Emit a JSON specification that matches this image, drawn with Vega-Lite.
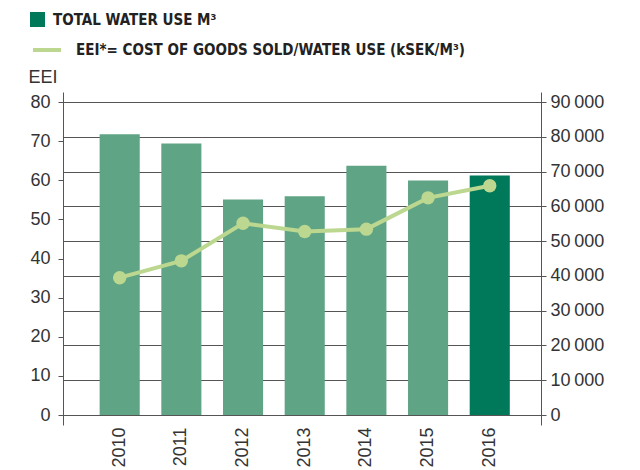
{
  "$schema": "https://vega.github.io/schema/vega-lite/v6.json",
  "autosize": {"type": "none"},
  "padding": {"left": 63, "top": 92, "right": 99, "bottom": 45},
  "width": 478,
  "height": 333,
  "background": "white",
  "config": {"view": {"stroke": null}, "font": "Liberation Sans"},
  "data": {"values": [
    {"year": "2010", "water": 80700, "eei": 35.1, "kind": "earlier"},
    {"year": "2011", "water": 78100, "eei": 39.4, "kind": "earlier"},
    {"year": "2012", "water": 62000, "eei": 49.0, "kind": "earlier"},
    {"year": "2013", "water": 62900, "eei": 46.9, "kind": "earlier"},
    {"year": "2014", "water": 71700, "eei": 47.5, "kind": "earlier"},
    {"year": "2015", "water": 67400, "eei": 55.5, "kind": "earlier"},
    {"year": "2016", "water": 68900, "eei": 58.6, "kind": "TOTAL WATER USE M³"}
  ]},
  "layer": [
    {
      "mark": {"type": "bar"},
      "encoding": {
        "x": {"field": "year", "type": "ordinal",
          "scale": {"paddingInner": 0.35, "paddingOuter": 0.55, "align": 0.54},
          "axis": {"title": null, "domain": false, "ticks": false, "labelAngle": -90, "labelFontSize": 18, "labelPadding": 2, "labelColor": "#333"}},
        "y": {"field": "water", "type": "quantitative",
          "scale": {"domain": [0, 90000], "nice": false, "padding": 10},
          "axis": {"orient": "right", "title": null, "values": [0, 10000, 20000, 30000, 40000, 50000, 60000, 70000, 80000, 90000],
            "format": ",d", "labelExpr": "replace(datum.label, ',', '\u2009')",
            "grid": true, "gridColor": "#555", "gridWidth": 1, "domainColor": "#555", "tickColor": "#555", "tickSize": 5,
            "labelFontSize": 18, "labelColor": "#333", "labelPadding": 4}},
        "fill": {"field": "kind", "type": "nominal",
          "scale": {"domain": ["TOTAL WATER USE M³", "earlier"], "range": ["#00785a", "#5fa485"]},
          "legend": {"orient": "none", "legendX": -33, "legendY": -80, "title": null, "padding": 0,
            "values": ["TOTAL WATER USE M³"], "symbolType": "square", "symbolSize": 225, "symbolStrokeWidth": 0,
            "labelFont": "DejaVu Sans Condensed", "labelFontWeight": "bold", "labelFontSize": 15, "labelColor": "#222",
            "labelOffset": 8, "labelLimit": 600}}
      }
    },
    {
      "layer": [
        {
          "mark": {"type": "line", "strokeWidth": 4},
          "encoding": {
            "x": {"field": "year", "type": "ordinal"},
            "y": {"field": "eei", "type": "quantitative",
              "scale": {"domain": [0, 80], "nice": false, "padding": 10},
              "axis": {"orient": "left", "values": [0, 10, 20, 30, 40, 50, 60, 70, 80], "grid": false,
                "title": "EEI", "titleAngle": 0, "titleAlign": "left", "titleBaseline": "alphabetic", "titleX": -35, "titleY": -10,
                "titleFontSize": 18, "titleFontWeight": "normal", "titleColor": "#333",
                "domainColor": "#555", "tickColor": "#555", "tickSize": 5, "labelFontSize": 18, "labelColor": "#333", "labelPadding": 8}},
            "stroke": {"datum": "EEI*= COST OF GOODS SOLD/WATER USE (kSEK/M³)", "type": "nominal",
              "scale": {"range": ["#bcd78f"]},
              "legend": {"orient": "none", "legendX": -32, "legendY": -58, "title": null, "padding": 0,
                "symbolType": "stroke", "symbolSize": 784, "symbolStrokeWidth": 4,
                "labelFont": "DejaVu Sans Condensed", "labelFontWeight": "bold", "labelFontSize": 15, "labelColor": "#222",
                "labelOffset": 13, "labelLimit": 600}}
          }
        },
        {
          "mark": {"type": "circle", "size": 180, "opacity": 1, "color": "#bcd78f"},
          "encoding": {
            "x": {"field": "year", "type": "ordinal"},
            "y": {"field": "eei", "type": "quantitative"}
          }
        }
      ]
    }
  ],
  "resolve": {"scale": {"y": "independent"}}
}
